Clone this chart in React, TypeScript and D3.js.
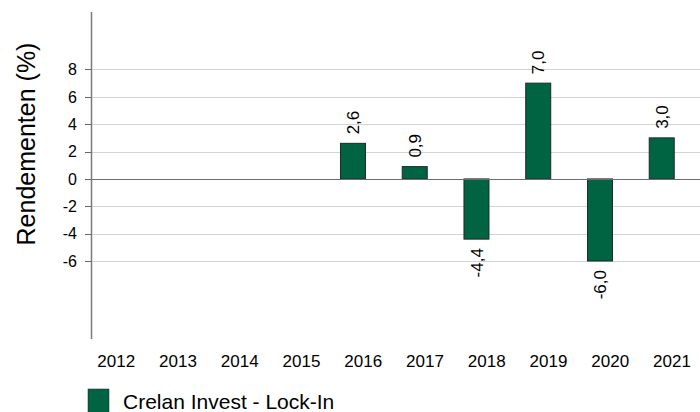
import React from "react";
import * as d3 from "d3";

const years = ["2012", "2013", "2014", "2015", "2016", "2017", "2018", "2019", "2020", "2021"];
const values: (number | null)[] = [null, null, null, null, 2.6, 0.9, -4.4, 7.0, -6.0, 3.0];
const yTicks = [-6, -4, -2, 0, 2, 4, 6, 8];
const seriesName = "Crelan Invest - Lock-In";
const yTitle = "Rendementen (%)";

const W = 700;
const H = 412;
const FONT = "'Liberation Sans', Arial, Helvetica, sans-serif";
const GREEN = "#006341";

export default function App() {
  const axisX = 91.5;
  const x = d3.scaleBand<string>().domain(years).range([85.4, 85.4 + 61.75 * 10]).padding(0);
  const y = d3.scaleLinear().domain([-11.7, 12.2]).range([339, 12]);
  const barW = 25;
  const barOffset = -10.3;
  const fmt = (v: number) => v.toFixed(1).replace(".", ",");

  return (
    <svg width={W} height={H} style={{ position: "absolute", left: 0, top: 0, background: "#fff" }} fontFamily={FONT}>
      {/* gridlines */}
      {yTicks.filter((t) => t !== 0).map((t) => (
        <line key={"g" + t} x1={axisX} x2={W} y1={Math.round(y(t)) + 0.5} y2={Math.round(y(t)) + 0.5} stroke="#d4d4d4" strokeWidth={1} />
      ))}
      {/* tick marks & labels */}
      {yTicks.map((t) => (
        <g key={"t" + t}>
          <line x1={85} x2={axisX} y1={Math.round(y(t)) + 0.5} y2={Math.round(y(t)) + 0.5} stroke="#666" strokeWidth={1} />
          <text x={77} y={y(t)} dy="0.36em" textAnchor="end" fontSize={16} fill="#000">{t}</text>
        </g>
      ))}
      {/* bars */}
      {years.map((yr, i) => {
        const v = values[i];
        if (v === null) return null;
        const cx = (x(yr) as number) + x.bandwidth() / 2 + barOffset;
        const top = y(Math.max(0, v));
        const bot = y(Math.min(0, v));
        return (
          <rect key={"b" + yr} x={cx - barW / 2} y={top} width={barW} height={bot - top} fill={GREEN} stroke="#1e2a24" strokeWidth={1} />
        );
      })}
      {/* zero line */}
      <line x1={axisX} x2={W} y1={Math.round(y(0)) + 0.5} y2={Math.round(y(0)) + 0.5} stroke="#6e6e6e" strokeWidth={1.2} />
      {/* y axis line */}
      <line x1={axisX} x2={axisX} y1={12} y2={339} stroke="#7a7a7a" strokeWidth={1.5} />
      {/* value labels */}
      {years.map((yr, i) => {
        const v = values[i];
        if (v === null) return null;
        const cx = (x(yr) as number) + x.bandwidth() / 2 + barOffset;
        const pos = v >= 0;
        const yy = pos ? y(v) - 9 : y(v) + 9;
        return (
          <text key={"v" + yr} transform={`translate(${cx},${yy}) rotate(-90)`} dy="0.36em" textAnchor={pos ? "start" : "end"} fontSize={17} fill="#000">
            {fmt(v)}
          </text>
        );
      })}
      {/* x labels */}
      {years.map((yr) => (
        <text key={"x" + yr} x={(x(yr) as number) + x.bandwidth() / 2} y={367} textAnchor="middle" fontSize={17} fill="#000">{yr}</text>
      ))}
      {/* y title */}
      <text transform={`translate(35,144) rotate(-90)`} textAnchor="middle" fontSize={25} fill="#000">{yTitle}</text>
      {/* legend */}
      <rect x={88} y={389} width={21} height={24} fill={GREEN} stroke="#1e2a24" strokeWidth={0.5} />
      <text x={123} y={409} fontSize={21} fill="#000">{seriesName}</text>
    </svg>
  );
}
